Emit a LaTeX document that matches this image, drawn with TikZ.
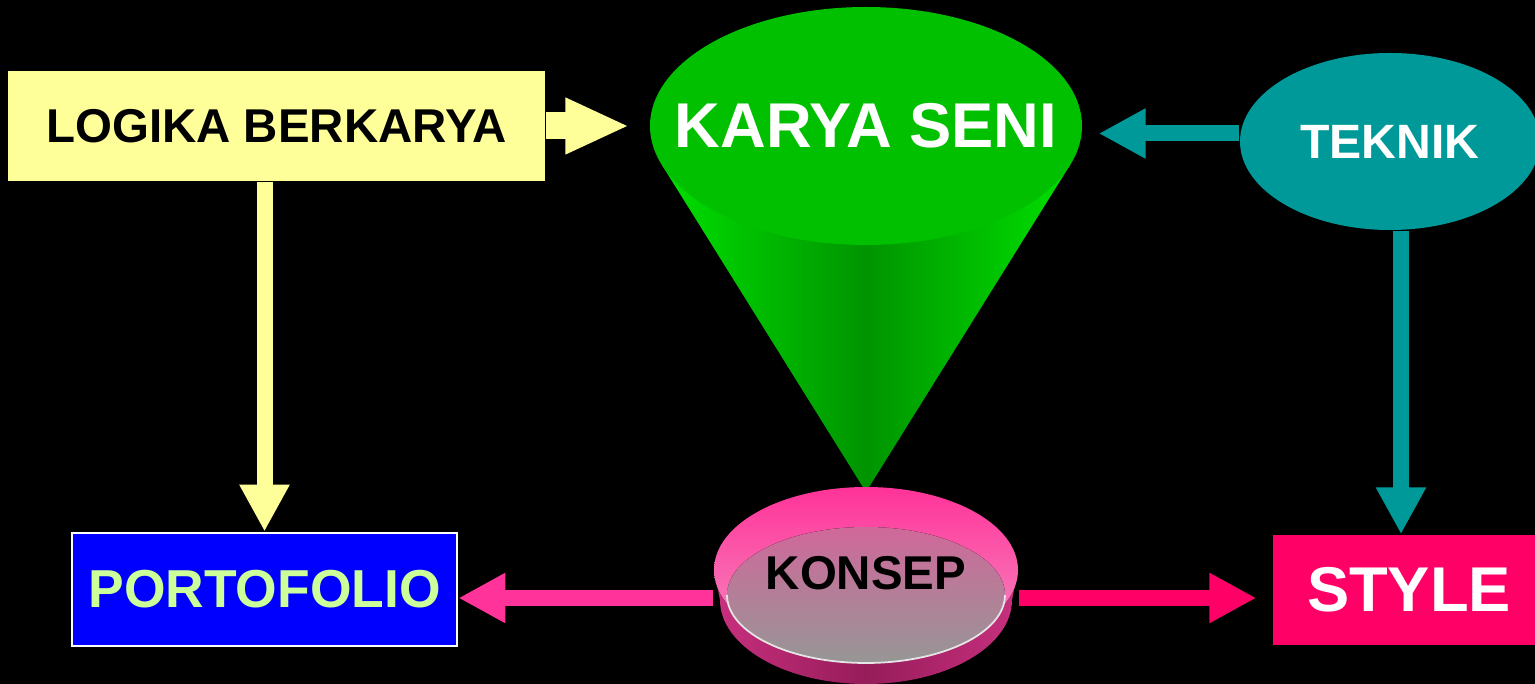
\documentclass[tikz,border=0pt]{standalone}
\usepackage{fontspec}
\setmainfont{Liberation Sans}
\usetikzlibrary{arrows.meta,shapes.geometric}

\definecolor{logikayellow}{HTML}{FFFF99}
\definecolor{karyagreen}{HTML}{00C000}
\definecolor{conelight}{HTML}{00E000}
\definecolor{conedark}{HTML}{009400}
\definecolor{teknikteal}{HTML}{009999}
\definecolor{portoblue}{HTML}{0000FF}
\definecolor{portogreen}{HTML}{CCFF99}
\definecolor{stylered}{HTML}{FF0066}
\definecolor{leftpink}{HTML}{FF3399}
\definecolor{dishtop}{HTML}{FF3399}
\definecolor{dishrim}{HTML}{F590C2}
\definecolor{dishside}{HTML}{C8307E}
\definecolor{dishdark}{HTML}{961C5A}
\definecolor{innertop}{HTML}{D0689A}
\definecolor{innerbottom}{HTML}{969696}

\tikzset{
  box/.style={rectangle, inner sep=0pt},
  blockarrow/.style={line width=.16cm, -{Triangle[length=.47cm,width=.47cm]}},
}

\begin{document}
\begin{tikzpicture}

  \fill[black] (0,0) rectangle (15.35,6.84);
  \useasboundingbox (0,0) rectangle (15.35,6.84);

  % cone under the karya face
  \fill[left color=conelight, right color=conelight, middle color=conedark]
    (6.62,5.19) -- (8.66,1.92) -- (10.70,5.19) -- cycle;
  \node[ellipse, fill=karyagreen, inner sep=0pt, minimum width=4.32cm, minimum height=2.38cm]
    (karya) at (8.66,5.58) {};
  \node[text=white, font=\fontsize{18}{21}\bfseries\selectfont] at (karya.center) {KARYA SENI};

  % konsep dish
  \fill[left color=dishside, right color=dishside, middle color=dishdark]
    (7.14,1.14) -- (7.20,0.84) arc[start angle=180, end angle=360, x radius=1.46, y radius=0.84]
    -- (10.18,1.14) -- cycle;
  \fill[top color=dishtop, bottom color=dishrim] (8.66,1.14) ellipse[x radius=1.52, y radius=0.83];
  \fill[top color=innertop, bottom color=innerbottom] (8.66,0.89) ellipse[x radius=1.39, y radius=0.68];
  \draw[white!80!gray, line width=.5pt]
    (7.27,0.89) arc[start angle=180, end angle=360, x radius=1.39, y radius=0.68];
  \node[ellipse, inner sep=0pt, minimum width=3.04cm, minimum height=1.66cm,
    font=\fontsize{13.5}{16}\bfseries\selectfont] (konsep) at (8.66,1.11) {KONSEP};

  \node[ellipse, fill=teknikteal, inner sep=0pt, minimum width=3.0cm, minimum height=1.77cm,
    text=white, font=\fontsize{13.7}{16}\bfseries\selectfont] (teknik) at (13.90,5.425) {TEKNIK};

  \node[box, fill=logikayellow, minimum width=5.37cm, minimum height=1.10cm,
    font=\fontsize{13.5}{16}\bfseries\selectfont] (logika) at (2.765,5.58) {LOGIKA BERKARYA};
  \node[box, fill=portoblue, draw=white, line width=.8pt, text=portogreen, minimum width=3.85cm,
    minimum height=1.13cm, font=\fontsize{15.2}{18}\bfseries\selectfont] (portofolio) at (2.645,0.945) {PORTOFOLIO};
  \node[box, fill=stylered, text=white, minimum width=2.72cm, minimum height=1.10cm,
    font=\fontsize{18}{21}\bfseries\selectfont] (style) at (14.09,0.94) {STYLE};

  % arrows
  \draw[blockarrow, logikayellow, line width=.27cm, -{Triangle[length=.64cm,width=.52cm]},
    shorten >=2mm] (logika.east) -- (karya.west);
  \draw[blockarrow, logikayellow] (portofolio.north |- logika.south) -- (portofolio.north);
  \draw[blockarrow, teknikteal, shorten >=1.6mm]
    ([yshift=.08cm]teknik.west) -- ([yshift=.08cm]teknik.west -| karya.east);
  \draw[blockarrow, teknikteal]
    ([xshift=.11cm]teknik.south) -- ([xshift=.11cm]teknik.south |- style.north);
  \draw[blockarrow, leftpink]
    ([yshift=-.25cm]konsep.west) -- ([yshift=-.25cm]konsep.west -| portofolio.east);
  \draw[blockarrow, stylered, shorten >=1.6mm]
    ([yshift=-.25cm]konsep.east) -- ([yshift=-.25cm]konsep.east -| style.west);

\end{tikzpicture}
\end{document}
